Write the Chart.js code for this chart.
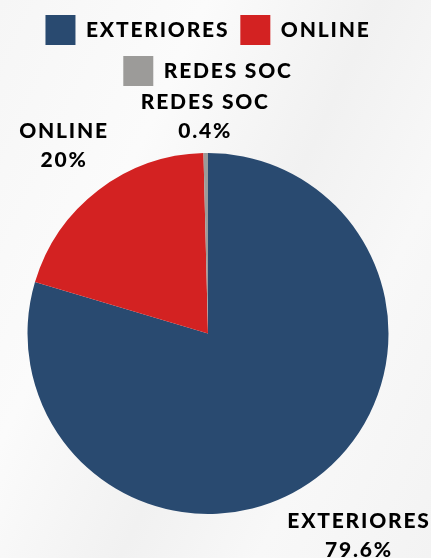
<!DOCTYPE html>
<html>
<head>
<meta charset="utf-8">
<script src="https://cdn.jsdelivr.net/npm/chart.js@4.4.1/dist/chart.umd.min.js"></script>
<style>
  html, body { margin: 0; padding: 0; }
  body {
    width: 431px; height: 558px; overflow: hidden;
    background: linear-gradient(115deg, #f6f6f6 0%, #fbfbfb 30%, #f1f1f1 55%, #f8f8f8 75%, #f3f3f3 100%);
  }
  #wrap { position: relative; width: 431px; height: 558px; }
</style>
</head>
<body>
<div id="wrap"><canvas id="pieChart"></canvas></div>
<script>
const labels = ['EXTERIORES', 'ONLINE', 'REDES SOC'];
const values = [79.6, 20, 0.4];
const valueLabels = ['79.6%', '20%', '0.4%'];
const colors = ['#294a70', '#d32222', '#9c9b99'];

const FONT = "'Lato', sans-serif";
const SPACING = '1.8px';

// wider letters, and push the pie below the legend
const legendGap = {
    id: 'legendGap',
    beforeInit(chart) {
        const fit = chart.legend.fit;
        chart.legend.fit = function () {
            fit.bind(chart.legend)();
            this.height += 57;
        };
    },
    beforeUpdate(chart) { chart.ctx.letterSpacing = SPACING; },
    beforeLayout(chart) { chart.ctx.letterSpacing = SPACING; },
    beforeDraw(chart) { chart.ctx.letterSpacing = SPACING; }
};

// labels outside each slice, two lines: name + percent
const outsideLabels = {
    id: 'outsideLabels',
    afterDatasetsDraw(chart) {
        const ctx = chart.ctx;
        const meta = chart.getDatasetMeta(0);
        const lineH = 29;
        const offset = 6;
        ctx.save();
        ctx.font = '900 21px ' + FONT;
        ctx.letterSpacing = SPACING;
        ctx.fillStyle = '#000';
        ctx.textAlign = 'center';
        ctx.textBaseline = 'middle';
        meta.data.forEach((arc, i) => {
            const p = arc.getProps(['x', 'y', 'startAngle', 'endAngle', 'outerRadius'], true);
            const mid = (p.startAngle + p.endAngle) / 2;
            const vx = Math.cos(mid), vy = Math.sin(mid);
            const lines = [labels[i], valueLabels[i]];
            const w = Math.max(...lines.map(l => ctx.measureText(l).width));
            const h = lines.length * lineH;
            const dist = offset + Math.abs(vx) * w / 2 + Math.abs(vy) * h / 2;
            let cx = p.x + vx * (p.outerRadius + dist);
            const cy = p.y + vy * (p.outerRadius + dist);
            cx = Math.min(Math.max(cx, w / 2), chart.width - w / 2);
            lines.forEach((l, j) => {
                ctx.fillText(l, cx, cy - h / 2 + lineH * (j + 0.5));
            });
        });
        ctx.restore();
    }
};

new Chart(document.getElementById('pieChart'), {
    type: 'pie',
    data: {
        labels,
        datasets: [{
            data: values,
            backgroundColor: colors,
            borderWidth: 0
        }]
    },
    options: {
        responsive: true,
        maintainAspectRatio: false,
        animation: false,
        layout: { padding: { top: 4, bottom: 44, left: 0, right: 15 } },
        plugins: {
            tooltip: { enabled: false },
            legend: {
                position: 'top',
                labels: {
                    boxWidth: 30,
                    boxHeight: 30,
                    padding: 11,
                    color: '#000',
                    font: { family: FONT, size: 21, weight: '900' }
                }
            }
        }
    },
    plugins: [legendGap, outsideLabels]
});
</script>
</body>
</html>
